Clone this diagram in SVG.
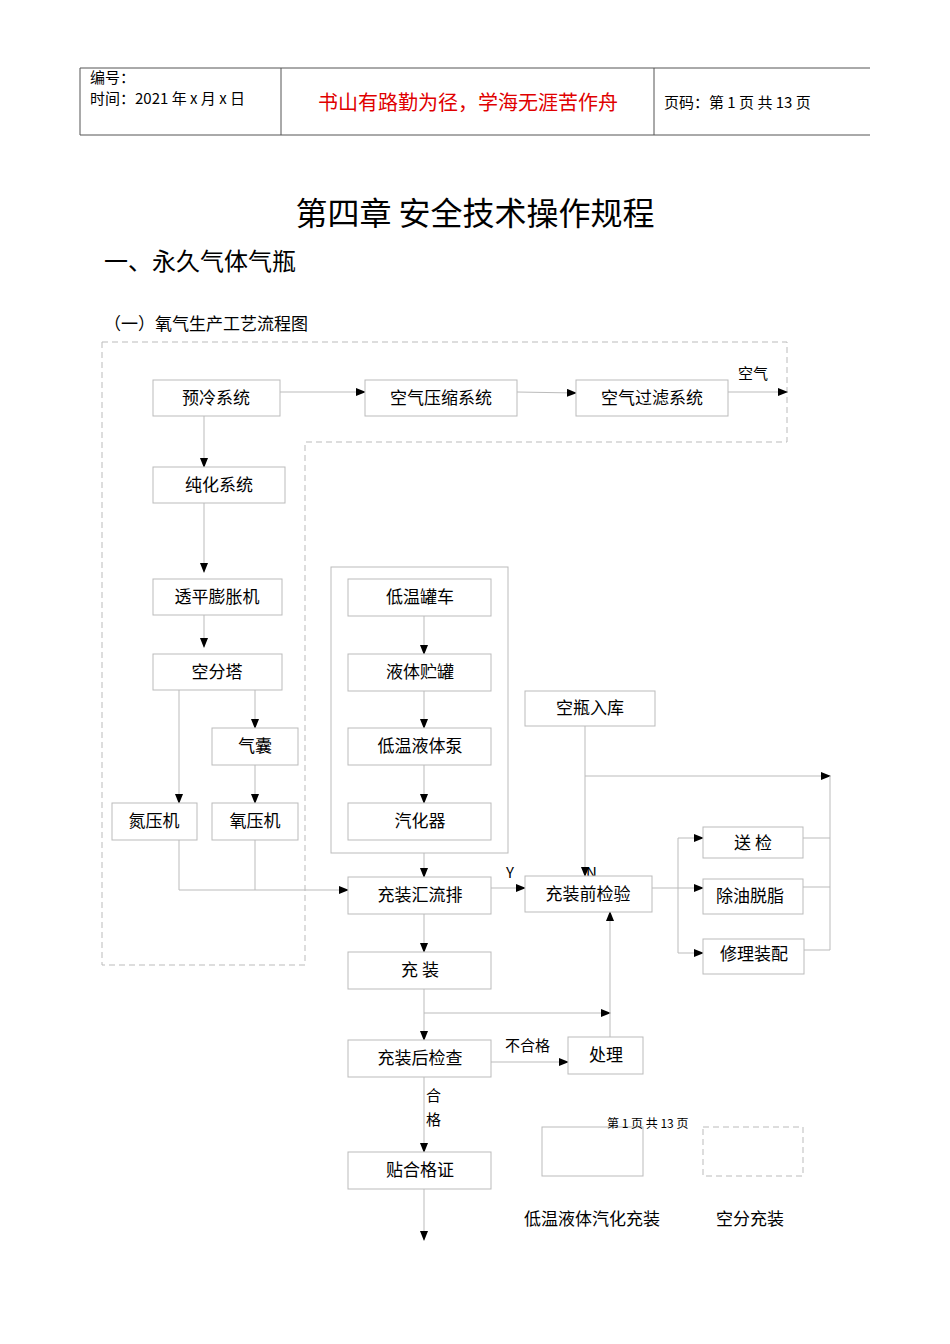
<svg xmlns="http://www.w3.org/2000/svg" width="950" height="1344" viewBox="0 0 950 1344">
<defs>
<marker id="a" markerWidth="10" markerHeight="8" refX="9" refY="4" orient="auto" markerUnits="userSpaceOnUse"><path d="M0,0L10,4L0,8z" fill="#000"/></marker>
<style>
text{font-family:"Noto Sans CJK SC","Liberation Sans",sans-serif;fill:#000}
.b rect{fill:#fff;stroke:#bbb;stroke-width:1}
.b text{font-size:17px;text-anchor:middle}
.c line,.c polyline{stroke:#bbb;fill:none;stroke-width:1}
.m{marker-end:url(#a)}
.s{font-size:15px}
</style>
</defs>
<rect width="950" height="1344" fill="#fff"/>
<g id="header" stroke="#555" fill="none">
<line x1="80" y1="68" x2="870" y2="68"/><line x1="80" y1="135" x2="870" y2="135"/>
<line x1="80" y1="68" x2="80" y2="135"/><line x1="281" y1="68" x2="281" y2="135"/><line x1="654" y1="68" x2="654" y2="135"/>
</g>
<text x="90" y="83" font-size="15">编号：</text>
<text x="90" y="104" font-size="15">时间：2021 年 x 月 x 日</text>
<text x="468" y="110" font-size="20" fill="#e00000" style="fill:#e00000" text-anchor="middle">书山有路勤为径，学海无涯苦作舟</text>
<text x="664" y="108" font-size="15">页码：第 1 页 共 13 页</text>
<text x="475" y="225" font-size="32" text-anchor="middle">第四章 安全技术操作规程</text>
<text x="104" y="270" font-size="24">一、永久气体气瓶</text>
<text x="104" y="330" font-size="17">（一）氧气生产工艺流程图</text>
<g id="regions">
<polygon points="102,342 787,342 787,442 305,442 305,965 102,965" fill="none" stroke="#bbb" stroke-dasharray="6,4"/>
<rect x="331" y="567" width="177" height="286" fill="none" stroke="#bbb"/>
</g>
<g class="c" id="connectors">
<line class="m" x1="280" y1="392" x2="365" y2="392"/>
<line class="m" x1="517" y1="392" x2="576" y2="393"/>
<line class="m" x1="728" y1="392" x2="787" y2="392"/>
<line class="m" x1="204" y1="416" x2="204" y2="467"/>
<line class="m" x1="204" y1="503" x2="204" y2="572"/>
<line class="m" x1="204" y1="615" x2="204" y2="647"/>
<line class="m" x1="255" y1="690" x2="255" y2="728"/>
<line class="m" x1="179" y1="690" x2="179" y2="803"/>
<line class="m" x1="255" y1="765" x2="255" y2="803"/>
<polyline class="m" points="179,840 179,890 348,890"/>
<line x1="255" y1="840" x2="255" y2="890"/>
<line class="m" x1="424" y1="616" x2="424" y2="654"/>
<line class="m" x1="424" y1="691" x2="424" y2="728"/>
<line class="m" x1="424" y1="765" x2="424" y2="803"/>
<line class="m" x1="424" y1="853" x2="424" y2="877"/>
<line class="m" x1="491" y1="888" x2="525" y2="888"/>
<line class="m" x1="585" y1="726" x2="585" y2="876"/>
<line class="m" x1="585" y1="776" x2="830" y2="776"/>
<line class="m" x1="652" y1="888" x2="703" y2="888"/>
<line x1="678" y1="838" x2="678" y2="953"/>
<line class="m" x1="678" y1="838" x2="703" y2="838"/>
<line class="m" x1="678" y1="953" x2="703" y2="953"/>
<line x1="803" y1="838" x2="830" y2="838"/>
<line x1="803" y1="887" x2="830" y2="887"/>
<line x1="804" y1="950" x2="830" y2="950"/>
<line x1="830" y1="776" x2="830" y2="950"/>
<line class="m" x1="424" y1="914" x2="424" y2="952"/>
<line class="m" x1="424" y1="989" x2="424" y2="1040"/>
<line class="m" x1="424" y1="1013" x2="610" y2="1013"/>
<line class="m" x1="610" y1="1037" x2="610" y2="912"/>
<line class="m" x1="491" y1="1062" x2="568" y2="1062"/>
<line class="m" x1="424" y1="1077" x2="424" y2="1152"/>
<line class="m" x1="424" y1="1189" x2="424" y2="1240"/>
</g>
<text x="738" y="379" class="s">空气</text>
<text x="506" y="878" font-size="15" font-family="Liberation Serif">Y</text>
<text x="586" y="878" font-size="15" font-family="Liberation Serif">N</text>
<text x="505" y="1051" class="s">不合格</text>
<text x="426" y="1101" class="s">合</text>
<text x="426" y="1125" class="s">格</text>
<g class="b">
<g id="n1"><rect x="153" y="380" width="127" height="36"/><text x="216" y="404">预冷系统</text></g>
<g id="n2"><rect x="365" y="380" width="152" height="36"/><text x="441" y="404">空气压缩系统</text></g>
<g id="n3"><rect x="576" y="380" width="152" height="36"/><text x="652" y="404">空气过滤系统</text></g>
<g id="n4"><rect x="153" y="467" width="132" height="36"/><text x="219" y="491">纯化系统</text></g>
<g id="n5"><rect x="153" y="579" width="129" height="36"/><text x="217" y="603">透平膨胀机</text></g>
<g id="n6"><rect x="153" y="654" width="129" height="36"/><text x="217" y="678">空分塔</text></g>
<g id="n7"><rect x="212" y="728" width="86" height="37"/><text x="255" y="752">气囊</text></g>
<g id="n8"><rect x="112" y="803" width="85" height="37"/><text x="154" y="827">氮压机</text></g>
<g id="n9"><rect x="212" y="803" width="86" height="37"/><text x="255" y="827">氧压机</text></g>
<g id="n10"><rect x="348" y="579" width="143" height="37"/><text x="420" y="603">低温罐车</text></g>
<g id="n11"><rect x="348" y="654" width="143" height="37"/><text x="420" y="678">液体贮罐</text></g>
<g id="n12"><rect x="348" y="728" width="143" height="37"/><text x="420" y="752">低温液体泵</text></g>
<g id="n13"><rect x="348" y="803" width="143" height="37"/><text x="420" y="827">汽化器</text></g>
<g id="n14"><rect x="525" y="691" width="130" height="35"/><text x="590" y="714">空瓶入库</text></g>
<g id="n15"><rect x="348" y="877" width="143" height="37"/><text x="420" y="901">充装汇流排</text></g>
<g id="n16"><rect x="525" y="876" width="127" height="36"/><text x="588" y="900">充装前检验</text></g>
<g id="n17"><rect x="703" y="827" width="100" height="31"/><text x="753" y="849">送  检</text></g>
<g id="n18"><rect x="703" y="879" width="100" height="35"/><text x="750" y="902">除油脱脂</text></g>
<g id="n19"><rect x="703" y="939" width="101" height="35"/><text x="754" y="960">修理装配</text></g>
<g id="n20"><rect x="348" y="952" width="143" height="37"/><text x="420" y="976">充  装</text></g>
<g id="n21"><rect x="348" y="1040" width="143" height="37"/><text x="420" y="1064">充装后检查</text></g>
<g id="n22"><rect x="568" y="1037" width="75" height="37"/><text x="606" y="1061">处理</text></g>
<g id="n23"><rect x="348" y="1152" width="143" height="37"/><text x="420" y="1176">贴合格证</text></g>
</g>
<g id="legend">
<rect x="542" y="1127" width="101" height="49" fill="none" stroke="#bbb"/>
<rect x="703" y="1127" width="100" height="49" fill="none" stroke="#bbb" stroke-dasharray="6,4"/>
<text x="607" y="1128" font-size="12">第 1 页 共 13 页</text>
<text x="592" y="1225" font-size="17" text-anchor="middle">低温液体汽化充装</text>
<text x="750" y="1225" font-size="17" text-anchor="middle">空分充装</text>
</g>
</svg>
